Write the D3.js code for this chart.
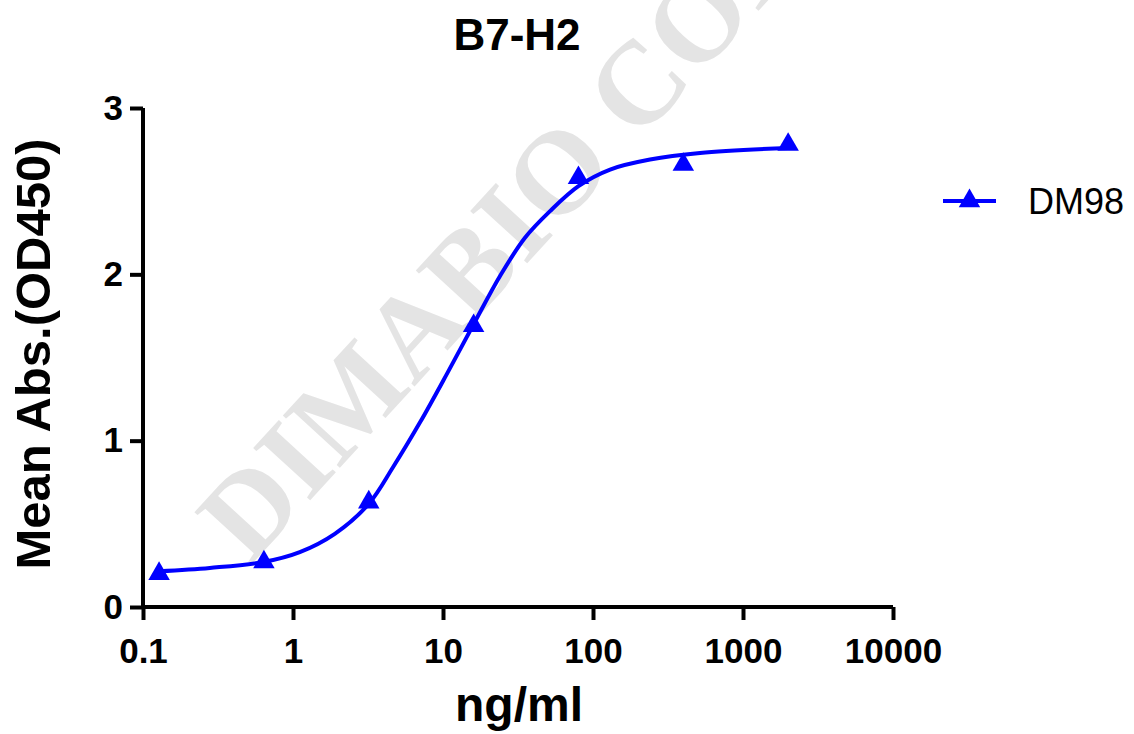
<!DOCTYPE html>
<html>
<head>
<meta charset="utf-8">
<title>B7-H2</title>
<script src="https://cdn.jsdelivr.net/npm/d3@7"></script>
<style>
  body { margin: 0; background: #fff; }
  svg text { font-family: "Liberation Sans", Arial, sans-serif; }
</style>
</head>
<body>
<div id="chart"></div>
<script>
// measured points (ng/ml vs OD450)
var conc = [0.128, 0.64, 3.2, 16, 80, 400, 2000];
var od = [0.20, 0.27, 0.63, 1.69, 2.58, 2.66, 2.78];

// fitted curve
var fitConc = [0.128, 0.279, 0.631, 1.11, 1.9, 3.2, 4.64, 7.03, 10.6, 16, 24, 35.2, 51.7, 80, 130, 240, 517, 2000];
var fitOd = [0.215, 0.235, 0.27, 0.33, 0.44, 0.62, 0.84, 1.11, 1.40, 1.70, 1.99, 2.22, 2.38, 2.53, 2.63, 2.69, 2.73, 2.76];

var xTicks = [0.1, 1, 10, 100, 1000, 10000];
var yTicks = [0, 1, 2, 3];
var seriesName = "DM98";

var W = 1134, H = 734;
var blue = "#0000ff";

var svg = d3.select("#chart").append("svg")
    .attr("width", W).attr("height", H);

var x = d3.scaleLog().domain([0.1, 10000]).range([143, 893]);
var y = d3.scaleLinear().domain([0, 3]).range([607, 108]);

// watermark
svg.append("text")
    .attr("transform", "translate(250,566) rotate(-47.5)")
    .attr("font-weight", "bold")
    .attr("font-size", 118)
    .attr("fill", "#e4e4e4")
    .style("font-family", "'Liberation Serif', 'Times New Roman', serif")
    .text("DIMABIO CONFIDENTIAL");

// title
svg.append("text")
    .attr("x", 517).attr("y", 50)
    .attr("text-anchor", "middle")
    .attr("font-size", 44).attr("font-weight", "bold")
    .text("B7-H2");

// axes
var xAxis = d3.axisBottom(x).tickValues(xTicks)
    .tickFormat(function(d) { return String(d); })
    .tickSize(13).tickSizeOuter(0).tickPadding(18);
var yAxis = d3.axisLeft(y).tickValues(yTicks)
    .tickFormat(d3.format("d"))
    .tickSize(13).tickSizeOuter(0).tickPadding(7);

var gx = svg.append("g").attr("transform", "translate(0,607)").call(xAxis);
var gy = svg.append("g").attr("transform", "translate(143,0)").call(yAxis);

[gx, gy].forEach(function(g) {
    g.select(".domain").attr("stroke", "#000").attr("stroke-width", 4);
    g.selectAll(".tick line").attr("stroke", "#000").attr("stroke-width", 4);
    g.selectAll(".tick text")
        .attr("fill", "#000")
        .style("font-family", "'Liberation Sans', Arial, sans-serif")
        .style("font-size", "35px")
        .style("font-weight", "bold");
});
// extend domains so the corner is square
gx.select(".domain").attr("d", "M" + (x.range()[0] - 2) + ",0H" + x.range()[1]);
gy.select(".domain").attr("d", "M0," + (y.range()[0] + 2) + "V" + y.range()[1]);

// axis titles
svg.append("text")
    .attr("x", 519).attr("y", 721)
    .attr("text-anchor", "middle")
    .attr("font-size", 48).attr("font-weight", "bold")
    .text("ng/ml");

svg.append("text")
    .attr("transform", "translate(50,354) rotate(-90)")
    .attr("text-anchor", "middle")
    .attr("font-size", 49).attr("font-weight", "bold")
    .text("Mean Abs.(OD450)");

// fitted curve
var fit = fitConc.map(function(c, i) { return [c, fitOd[i]]; });
var line = d3.line()
    .x(function(d) { return x(d[0]); })
    .y(function(d) { return y(d[1]); })
    .curve(d3.curveCatmullRom.alpha(0.5));

svg.append("path")
    .datum(fit)
    .attr("d", line)
    .attr("fill", "none")
    .attr("stroke", blue)
    .attr("stroke-width", 4);

// triangles
var tri = d3.symbol().type(d3.symbolTriangle).size(200);
svg.selectAll(".pt")
    .data(conc)
    .enter().append("path")
    .attr("class", "pt")
    .attr("d", tri)
    .attr("transform", function(c, i) { return "translate(" + x(c) + "," + y(od[i]) + ")"; })
    .attr("fill", blue);

// legend
var lg = svg.append("g").attr("transform", "translate(943,201)");
lg.append("line").attr("x1", 0).attr("x2", 53).attr("y1", 0).attr("y2", 0)
    .attr("stroke", blue).attr("stroke-width", 4);
lg.append("path").attr("d", tri).attr("transform", "translate(26.5,0)").attr("fill", blue);
lg.append("text").attr("x", 85).attr("y", 13)
    .attr("font-size", 36)
    .text(seriesName);
</script>
</body>
</html>
